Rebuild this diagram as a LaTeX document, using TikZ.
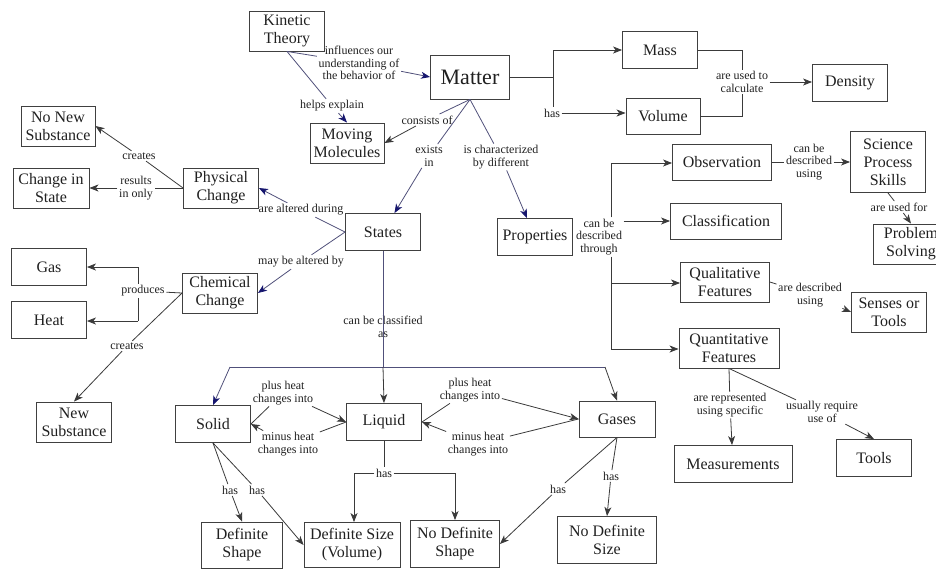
\documentclass[tikz,border=0pt]{standalone}
\usepackage{fontspec}
\setmainfont{Liberation Serif}
\usetikzlibrary{arrows.meta}
\definecolor{boxc}{HTML}{404040}
\definecolor{linec}{HTML}{3A3A3A}
\definecolor{navyline}{HTML}{50507A}
\definecolor{navytip}{HTML}{16166E}
\definecolor{textc}{HTML}{202020}
\tikzset{
  box/.style={draw=boxc, line width=0.9pt, inner sep=0pt, align=center, text=textc,
    font=\fontsize{16}{18}\selectfont, minimum width=75pt, minimum height=40pt},
  lab/.style={inner sep=1.5pt, align=center, text=textc, font=\fontsize{12}{12.5}\selectfont},
  ln/.style={draw=linec, line width=0.8pt},
  arr/.style={ln, -{Stealth[length=9pt, width=7pt, inset=2.5pt]}},
  nln/.style={draw=navyline, line width=0.8pt},
  narr/.style={nln, -{Stealth[length=9pt, width=7pt, inset=2.5pt, color=navytip]}}
}
\begin{document}
\begin{tikzpicture}[x=1pt, y=-1pt]
\useasboundingbox (0,0) rectangle (936,568);
% boxes
\node[box] (kt) at (287,31) {Kinetic\\Theory};
\node[box, minimum width=79pt, minimum height=44pt, font=\fontsize{22}{24}\selectfont] (matter) at (470,77) {Matter};
\node[box, minimum width=74pt] (mm) at (347,143) {Moving\\Molecules};
\node[box, minimum height=37pt] (mass) at (660,50) {Mass};
\node[box, minimum width=74pt, minimum height=36pt] (volume) at (663,116) {Volume};
\node[box, minimum height=37pt] (density) at (850,83) {Density};
\node[box, minimum width=99pt, minimum height=36pt] (obs) at (722,162) {Observation};
\node[box, minimum height=61pt] (sps) at (888,162) {Science\\Process\\Skills};
\node[box] (ps) at (911,244) {Problem\\Solving};
\node[box, minimum width=111pt, minimum height=36pt] (cls) at (726,221) {Classification};
\node[box, minimum width=89pt] (qual) at (725,282) {Qualitative\\Features};
\node[box] (senses) at (889,312) {Senses or\\Tools};
\node[box, minimum width=100pt] (quant) at (729,348) {Quantitative\\Features};
\node[box, minimum height=37pt] (props) at (535,237) {Properties};
\node[box, minimum height=37pt] (states) at (383,232) {States};
\node[box] (pc) at (221,188) {Physical\\Change};
\node[box] (cc) at (220,293) {Chemical\\Change};
\node[box, minimum width=74pt] (nns) at (58,126) {No New\\Substance};
\node[box, minimum width=76pt] (cis) at (51,188) {Change in\\State};
\node[box, minimum height=37pt] (gas) at (49,267) {Gas};
\node[box, minimum height=37pt] (heat) at (49,320) {Heat};
\node[box] (ns) at (74,422) {New\\Substance};
\node[box, minimum height=37pt] (solid) at (213,424) {Solid};
\node[box, minimum height=37pt] (liquid) at (384,422) {Liquid};
\node[box, minimum width=76pt, minimum height=36pt] (gases) at (617,419) {Gases};
\node[box, minimum width=81pt, minimum height=46pt] (dshape) at (242,545) {Definite\\Shape};
\node[box, minimum width=96pt, minimum height=45pt] (dsv) at (352,545) {Definite Size\\(Volume)};
\node[box, minimum width=89pt, minimum height=47pt] (nds) at (455,544) {No Definite\\Shape};
\node[box, minimum width=99pt, minimum height=47pt] (ndsz) at (607,540) {No Definite\\Size};
\node[box, minimum width=118pt, minimum height=37pt] (meas) at (733,464) {Measurements};
\node[box, minimum height=37pt] (tools) at (874,458) {Tools};
% labels
\node[lab] (infl) at (359,63) {influences our\\understanding of\\the behavior of};
\node[lab] (helps) at (332,106) {helps explain};
\node[lab] (consists) at (427,120) {consists of};
\node[lab] (exists) at (429,156) {exists\\in};
\node[lab] (charac) at (501,157) {is characterized\\by different};
\node[lab] (has1) at (552,113) {has};
\node[lab] (calc) at (742,82) {are used to\\calculate};
\node[lab] (cbdu) at (809,162) {can be\\described\\using};
\node[lab] (auf) at (899,207) {are used for};
\node[lab] (cbdt) at (599,237) {can be\\described\\through};
\node[lab] (ards) at (810,295) {are described\\using};
\node[lab] (repr) at (730,405) {are represented\\using specific};
\node[lab] (ureq) at (822,412) {usually require\\use of};
\node[lab] (altdur) at (301,210) {are altered during};
\node[lab] (maybe) at (301,262) {may be altered by};
\node[lab] (creates1) at (139,156) {creates};
\node[lab] (results) at (136,188) {results\\in only};
\node[lab] (produces) at (143,291) {produces};
\node[lab] (creates2) at (127,346) {creates};
\node[lab] (ccas) at (383,327) {can be classified\\as};
\node[lab] (plus1) at (283,393) {plus heat\\changes into};
\node[lab] (minus1) at (288,444) {minus heat\\changes into};
\node[lab] (plus2) at (470,390) {plus heat\\changes into};
\node[lab] (minus2) at (478,444) {minus heat\\changes into};
\node[lab] (lhas) at (384,473) {has};
\node[lab] (shas1) at (230,490) {has};
\node[lab] (shas2) at (257,490) {has};
\node[lab] (ghas1) at (558,489) {has};
\node[lab] (ghas2) at (611,476) {has};
% coordinates
\coordinate (mj) at (553,77);
\coordinate (pt1) at (611,163);
\coordinate (pt3) at (611,283);
\coordinate (pt4) at (611,349);
\coordinate (pg) at (138,267);
\coordinate (ph) at (138,321);
\coordinate (sj) at (383,367);
\coordinate (sl) at (230,367);
\coordinate (sg) at (605,367);
% Kinetic theory
\draw[nln] (kt.south) -- (infl);
\draw[narr] (infl) -- (matter.west);
\draw[nln] (kt.south) -- (helps);
\draw[narr] (helps) -- (mm.north);
% Matter
\draw[nln] (matter.south) -- (consists);
\draw[arr] (consists) -- (mm.east);
\draw[nln] (matter.south) -- (exists);
\draw[narr] (exists) -- (states);
\draw[nln] (matter.south) -- (charac);
\draw[narr] (charac) -- (props);
\draw[ln] (matter.east) -- (mj);
\draw[arr] (mj) |- (mass.west);
\draw[ln] (mj) -- (mj |- has1.north);
\draw[arr] (has1.east) -- (volume.west |- has1.east);
\draw[ln] (mass.east) -| (calc.north);
\draw[ln] (volume.east) -| (calc.south);
\draw[arr] (calc.east) -- (density.west |- calc.east);
% Properties
\draw[ln] (pt1 |- cbdt.north) -- (pt1);
\draw[arr] (pt1) -- (obs.west |- pt1);
\draw[arr] (cbdt.east |- cls.west) -- (cls.west);
\draw[ln] (pt4 |- cbdt.south) -- (pt4);
\draw[arr] (pt3) -- (qual.west |- pt3);
\draw[arr] (pt4) -- (quant.west |- pt4);
\draw[ln] (obs.east) -- (cbdu);
\draw[arr] (cbdu) -- (sps);
\draw[ln] (sps.south) -- (auf);
\draw[arr] (auf) -- (ps.north);
\draw[ln] (qual.east) -- (ards);
\draw[arr] (ards) -- (senses.west);
\draw[ln] (quant.south) -- (repr);
\draw[arr] (repr) -- (meas);
\draw[ln] (quant.south) -- (ureq);
\draw[arr] (ureq) -- (tools.north);
% States
\draw[nln] (states.west) -- (altdur);
\draw[narr] (altdur) -- (pc.east);
\draw[nln] (states.west) -- (maybe);
\draw[narr] (maybe) -- (cc.east);
\draw[ln] (pc.west) -- (creates1);
\draw[arr] (creates1) -- (nns.east);
\draw[ln] (pc.west) -- (results);
\draw[arr] (results) -- (cis.east);
\draw[ln] (cc.west) -- (produces);
\draw[ln] (pg) -- (pg |- produces.north);
\draw[ln] (ph |- produces.south) -- (ph);
\draw[arr] (pg) -- (gas.east);
\draw[arr] (ph) -- (heat.east |- ph);
\draw[ln] (cc.west) -- (creates2);
\draw[arr] (creates2) -- (ns.north);
\draw[nln, line width=1pt] (states.south) -- (sj);
\draw[nln] (sl) -- (sg);
\draw[arr] (sj) -- (liquid.north);
\draw[narr] (sl) -- (solid.north);
\draw[arr] (sg) -- (gases.north);
% transitions
\draw[ln] (solid.east) -- (plus1);
\draw[arr] (plus1) -- (liquid.west);
\draw[ln] (liquid.west) -- (minus1);
\draw[arr] (minus1) -- (solid.east);
\draw[ln] (liquid.east) -- (plus2);
\draw[arr] (plus2) -- (gases.west);
\draw[ln] (gases.west) -- (minus2);
\draw[arr] (minus2) -- (liquid.east);
% has
\draw[ln] (liquid.south) -- (lhas.north);
\draw[arr] (lhas.west) -| ([xshift=2pt]dsv.north);
\draw[arr] (lhas.east) -| (nds.north);
\draw[ln] (solid.south) -- (shas1);
\draw[arr] (shas1) -- (dshape.north);
\draw[ln] (solid.south) -- (shas2);
\draw[arr] (shas2) -- (dsv.west);
\draw[ln] (gases.south) -- (ghas1);
\draw[arr] (ghas1) -- (nds.east);
\draw[ln] (gases.south) -- (ghas2);
\draw[arr] (ghas2) -- (ndsz.north);
\end{tikzpicture}
\end{document}
